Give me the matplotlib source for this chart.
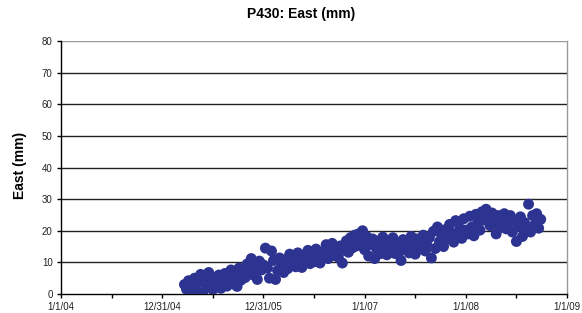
import numpy as np
import matplotlib
matplotlib.use("Agg")
import matplotlib.pyplot as plt

# ---- data (decimal year, east displacement in mm) ----
t_start = 2005.22
t_step = 0.02
east_mm = [
    3.0, 1.5, 4.2, 0.8, 2.6, 5.0, 1.2, 3.8, 6.2, 0.4,
    5.5, 2.2, 6.8, 3.5, 1.4, 4.8, 2.8, 6.0, 1.8, 4.2,
    6.5, 2.5, 4.8, 7.6, 3.2, 5.8, 2.4, 8.2, 4.4, 6.8,
    5.2, 9.5, 7.0, 11.2, 6.0, 8.8, 4.6, 10.4, 7.6, 9.2,
    14.5, 8.2, 5.0, 13.6, 10.6, 4.6, 7.4, 11.4, 8.8, 6.8,
    10.8, 8.0, 12.6, 9.4, 11.6, 8.6, 13.0, 10.2, 8.4, 12.2,
    11.0, 13.8, 9.6, 12.4, 10.2, 14.2, 11.8, 9.8, 13.2, 12.0,
    15.6, 11.2, 13.4, 16.0, 12.2, 14.8, 11.6, 15.2, 9.8, 13.8,
    16.8, 13.2, 17.8, 14.6, 18.6, 15.2, 19.0, 16.4, 20.0, 14.0,
    18.2, 12.0, 15.6, 17.4, 11.2, 14.2, 16.8, 12.8, 18.0, 15.0,
    12.4, 16.6, 14.0, 17.8, 12.8, 15.4, 13.2, 10.6, 17.2, 14.6,
    16.8, 13.0, 18.2, 15.0, 12.6, 17.4, 14.2, 16.2, 18.6, 13.6,
    15.2, 17.8, 11.4, 19.8, 14.4, 21.2, 16.6, 18.8, 15.0, 20.4,
    17.4, 22.0, 19.2, 16.4, 23.2, 18.2, 20.8, 17.6, 23.8, 20.2,
    19.0, 24.6, 21.2, 18.4, 25.2, 22.6, 20.2, 26.0, 23.4, 26.8,
    24.2, 21.6, 25.6, 22.8, 19.0, 24.8, 21.0, 23.6, 25.4, 20.6,
    22.4, 24.8, 19.6, 23.0, 16.6, 21.4, 24.4, 18.2, 22.6, 20.4,
    28.4, 19.6, 24.8, 21.8, 25.4, 20.8, 23.6,
]
dates = t_start + t_step * np.arange(len(east_mm))

x_tick_pos = [2004, 2005, 2006, 2007, 2008, 2009]
x_tick_labels = ["1/1/04", "12/31/04", "12/31/05", "1/1/07", "1/1/08", "1/1/09"]
y_ticks = [0, 10, 20, 30, 40, 50, 60, 70, 80]

title = "P430: East (mm)"
ylabel = "East (mm)"

# ---- figure ----
plt.rcParams['font.family'] = ['Liberation Sans', 'DejaVu Sans']
fig = plt.figure(figsize=(5.82, 3.13), dpi=100)
ax = fig.add_axes([61/582, 19/313, (567-61)/582, (294-41)/313])

ax.scatter(dates, east_mm, marker='o', s=62, color='#2D3390',
           edgecolors='none', alpha=1.0, zorder=3)

ax.set_xlim(2004, 2009)
ax.set_ylim(0, 80)
ax.set_xticks(x_tick_pos)
ax.set_xticklabels(x_tick_labels, fontsize=7, color='#222222')
ax.set_xticks([y + 0.5 for y in x_tick_pos[:-1]], minor=True)
ax.set_yticks(y_ticks)
ax.set_yticklabels([str(v) for v in y_ticks], fontsize=7, color='#222222')

ax.tick_params(axis='both', which='major', direction='out', length=3, width=1, pad=3)
ax.tick_params(axis='x', which='minor', direction='out', length=3, width=1)

for v in y_ticks[1:-1]:
    ax.axhline(v, color='#222222', lw=1.0, zorder=1)
ax.axhline(80, color='#999999', lw=1.0, zorder=1)

ax.spines['top'].set_visible(False)
ax.spines['right'].set_color('#999999')
ax.spines['left'].set_color('black')
ax.spines['bottom'].set_color('black')
for s in ax.spines.values():
    s.set_linewidth(1.0)

fig.text(301/582, 1 - 14/313, title, ha='center', va='center',
         fontsize=10, fontweight='bold')
fig.text(20/582, 1 - 165/313, ylabel, ha='center', va='center', rotation=90,
         fontsize=10, fontweight='bold')

fig.savefig('out.png', dpi=100)
